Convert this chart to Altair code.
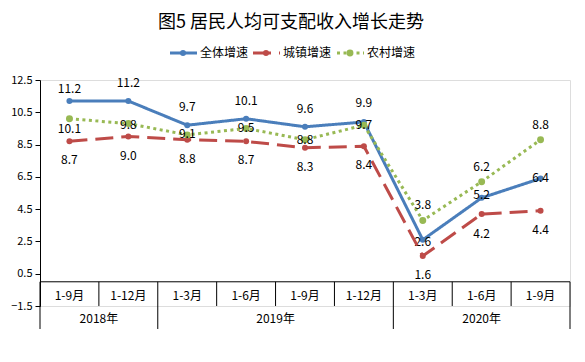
import altair as alt
import pandas as pd

# ---------------- data ----------------
title_text = "图5 居民人均可支配收入增长走势"
periods = ["1-9月", "1-12月", "1-3月", "1-6月", "1-9月", "1-12月", "1-3月", "1-6月", "1-9月"]
years = ["2018年", "2018年", "2019年", "2019年", "2019年", "2019年", "2020年", "2020年", "2020年"]
series_names = ["全体增速", "城镇增速", "农村增速"]
total = [11.2, 11.2, 9.7, 10.1, 9.6, 9.9, 2.6, 5.2, 6.4]
urban = [8.7, 9.0, 8.8, 8.7, 8.3, 8.4, 1.6, 4.2, 4.4]
rural = [10.1, 9.8, 9.1, 9.5, 8.8, 9.7, 3.8, 6.2, 8.8]
y_ticks = [-1.5, 0.5, 2.5, 4.5, 6.5, 8.5, 10.5, 12.5]

# ---------------- styles ----------------
colors = {"全体增速": "#4A7EBB", "城镇增速": "#BE4B48", "农村增速": "#98B954"}
dashes = {"全体增速": [1, 0], "城镇增速": [18, 8], "农村增速": [3, 3.5]}
marker_size = {"全体增速": 36, "城镇增速": 36, "农村增速": 48}
label_dy = {
    "全体增速": [-12, -18, -18, -18, -18, -19, 2, -3, 0],
    "城镇增速": [19, 19, 19, 19, 19, 19, 19, 20, 19],
    "农村增速": [10, 1, -1, 0, 0, 0, -15, -15, -15],
}
FONT = "Noto Sans CJK SC"
n = len(periods)

values = {"全体增速": total, "城镇增速": urban, "农村增速": rural}

xs = alt.Scale(domain=[0, n], nice=False, zero=False)
ys = alt.Scale(domain=[y_ticks[0], y_ticks[-1]], nice=False, zero=False)
y_axis = alt.Axis(
    values=y_ticks, format=".1f", title=None, grid=False,
    domainColor="#000000", tickColor="#000000", tickSize=5,
    labelFontSize=11, labelColor="#000000", labelPadding=3, labelFont=FONT)


def Y(field):
    return alt.Y(field, scale=ys, axis=y_axis)


def X(field):
    return alt.X(field, scale=xs, axis=None)


layers = []

# category axis line at 0
axis_df = pd.DataFrame({"a": [0], "b": [n], "v": [0]})
layers.append(alt.Chart(axis_df).mark_rule(color="#000000", strokeWidth=1).encode(
    x=X("a:Q"), x2="b:Q", y=Y("v:Q")))

# separators
year_bounds = [0] + [i for i in range(1, n) if years[i] != years[i - 1]] + [n]
month_bounds = [i for i in range(1, n) if i not in year_bounds]
month_sep = pd.DataFrame({"p": month_bounds, "v": [0] * len(month_bounds)})
year_sep = pd.DataFrame({"p": year_bounds, "v": [0] * len(year_bounds)})
layers.append(alt.Chart(month_sep).mark_rule(color="#000000", strokeWidth=1).encode(
    x=X("p:Q"), y=Y("v:Q"), y2=alt.value(226)))
layers.append(alt.Chart(year_sep).mark_rule(color="#000000", strokeWidth=1).encode(
    x=X("p:Q"), y=Y("v:Q"), y2=alt.value(249)))

# month labels
month_df = pd.DataFrame({"pos": [i + 0.5 for i in range(n)], "t": periods})
layers.append(alt.Chart(month_df).mark_text(font=FONT, fontSize=12, color="#000000", baseline="middle").encode(
    x=X("pos:Q"), y=alt.value(216), text="t:N"))

# year labels
yr_rows = []
for k in range(len(year_bounds) - 1):
    a, b = year_bounds[k], year_bounds[k + 1]
    yr_rows.append({"pos": (a + b) / 2, "t": years[a]})
year_df = pd.DataFrame(yr_rows)
layers.append(alt.Chart(year_df).mark_text(font=FONT, fontSize=12, color="#000000", baseline="middle").encode(
    x=X("pos:Q"), y=alt.value(239), text="t:N"))

# series
for s in series_names:
    df = pd.DataFrame({
        "pos": [i + 0.5 for i in range(n)],
        "value": values[s],
        "label": [f"{v:.1f}" for v in values[s]],
        "dy": label_dy[s],
    })
    layers.append(alt.Chart(df).mark_line(color=colors[s], strokeWidth=3, strokeDash=dashes[s],
                                          strokeCap="butt", strokeJoin="round").encode(x=X("pos:Q"), y=Y("value:Q")))
    layers.append(alt.Chart(df).mark_circle(color=colors[s], size=marker_size[s], opacity=1).encode(
        x=X("pos:Q"), y=Y("value:Q")))
    for dyv in sorted(set(label_dy[s])):
        layers.append(alt.Chart(df).transform_filter(alt.datum.dy == dyv).mark_text(
            font=FONT, fontSize=12, color="#000000", baseline="middle", dy=dyv).encode(
            x=X("pos:Q"), y=Y("value:Q"), text="label:N"))

# title
one = pd.DataFrame({"t": [title_text]})
layers.append(alt.Chart(one).mark_text(font=FONT, fontSize=18, color="#000000", baseline="middle", align="center").encode(
    x=alt.value(251), y=alt.value(-57), text="t:N"))

# legend
leg_x = {"全体增速": 130, "城镇增速": 213, "农村增速": 297}
leg_y = -27
for s in series_names:
    d = pd.DataFrame({"t": [s]})
    x0 = leg_x[s]
    layers.append(alt.Chart(d).mark_rule(color=colors[s], strokeWidth=3, strokeDash=dashes[s], strokeCap="butt").encode(
        x=alt.value(x0), x2=alt.value(x0 + 27), y=alt.value(leg_y)))
    layers.append(alt.Chart(d).mark_circle(color=colors[s], size=marker_size[s], opacity=1).encode(
        x=alt.value(x0 + 13), y=alt.value(leg_y)))
    layers.append(alt.Chart(d).mark_text(font=FONT, fontSize=12, color="#000000", align="left", baseline="middle").encode(
        x=alt.value(x0 + 30), y=alt.value(leg_y), text="t:N"))

chart = alt.layer(*layers).properties(
    width=530, height=226,
    autosize=alt.AutoSizeParams(type="none"),
    padding={"left": 32, "top": 72, "right": 7, "bottom": 40},
    background="white",
).configure_view(stroke=None).configure(font=FONT)

chart.save("out.html", embed_options={"renderer": "svg", "actions": False})
